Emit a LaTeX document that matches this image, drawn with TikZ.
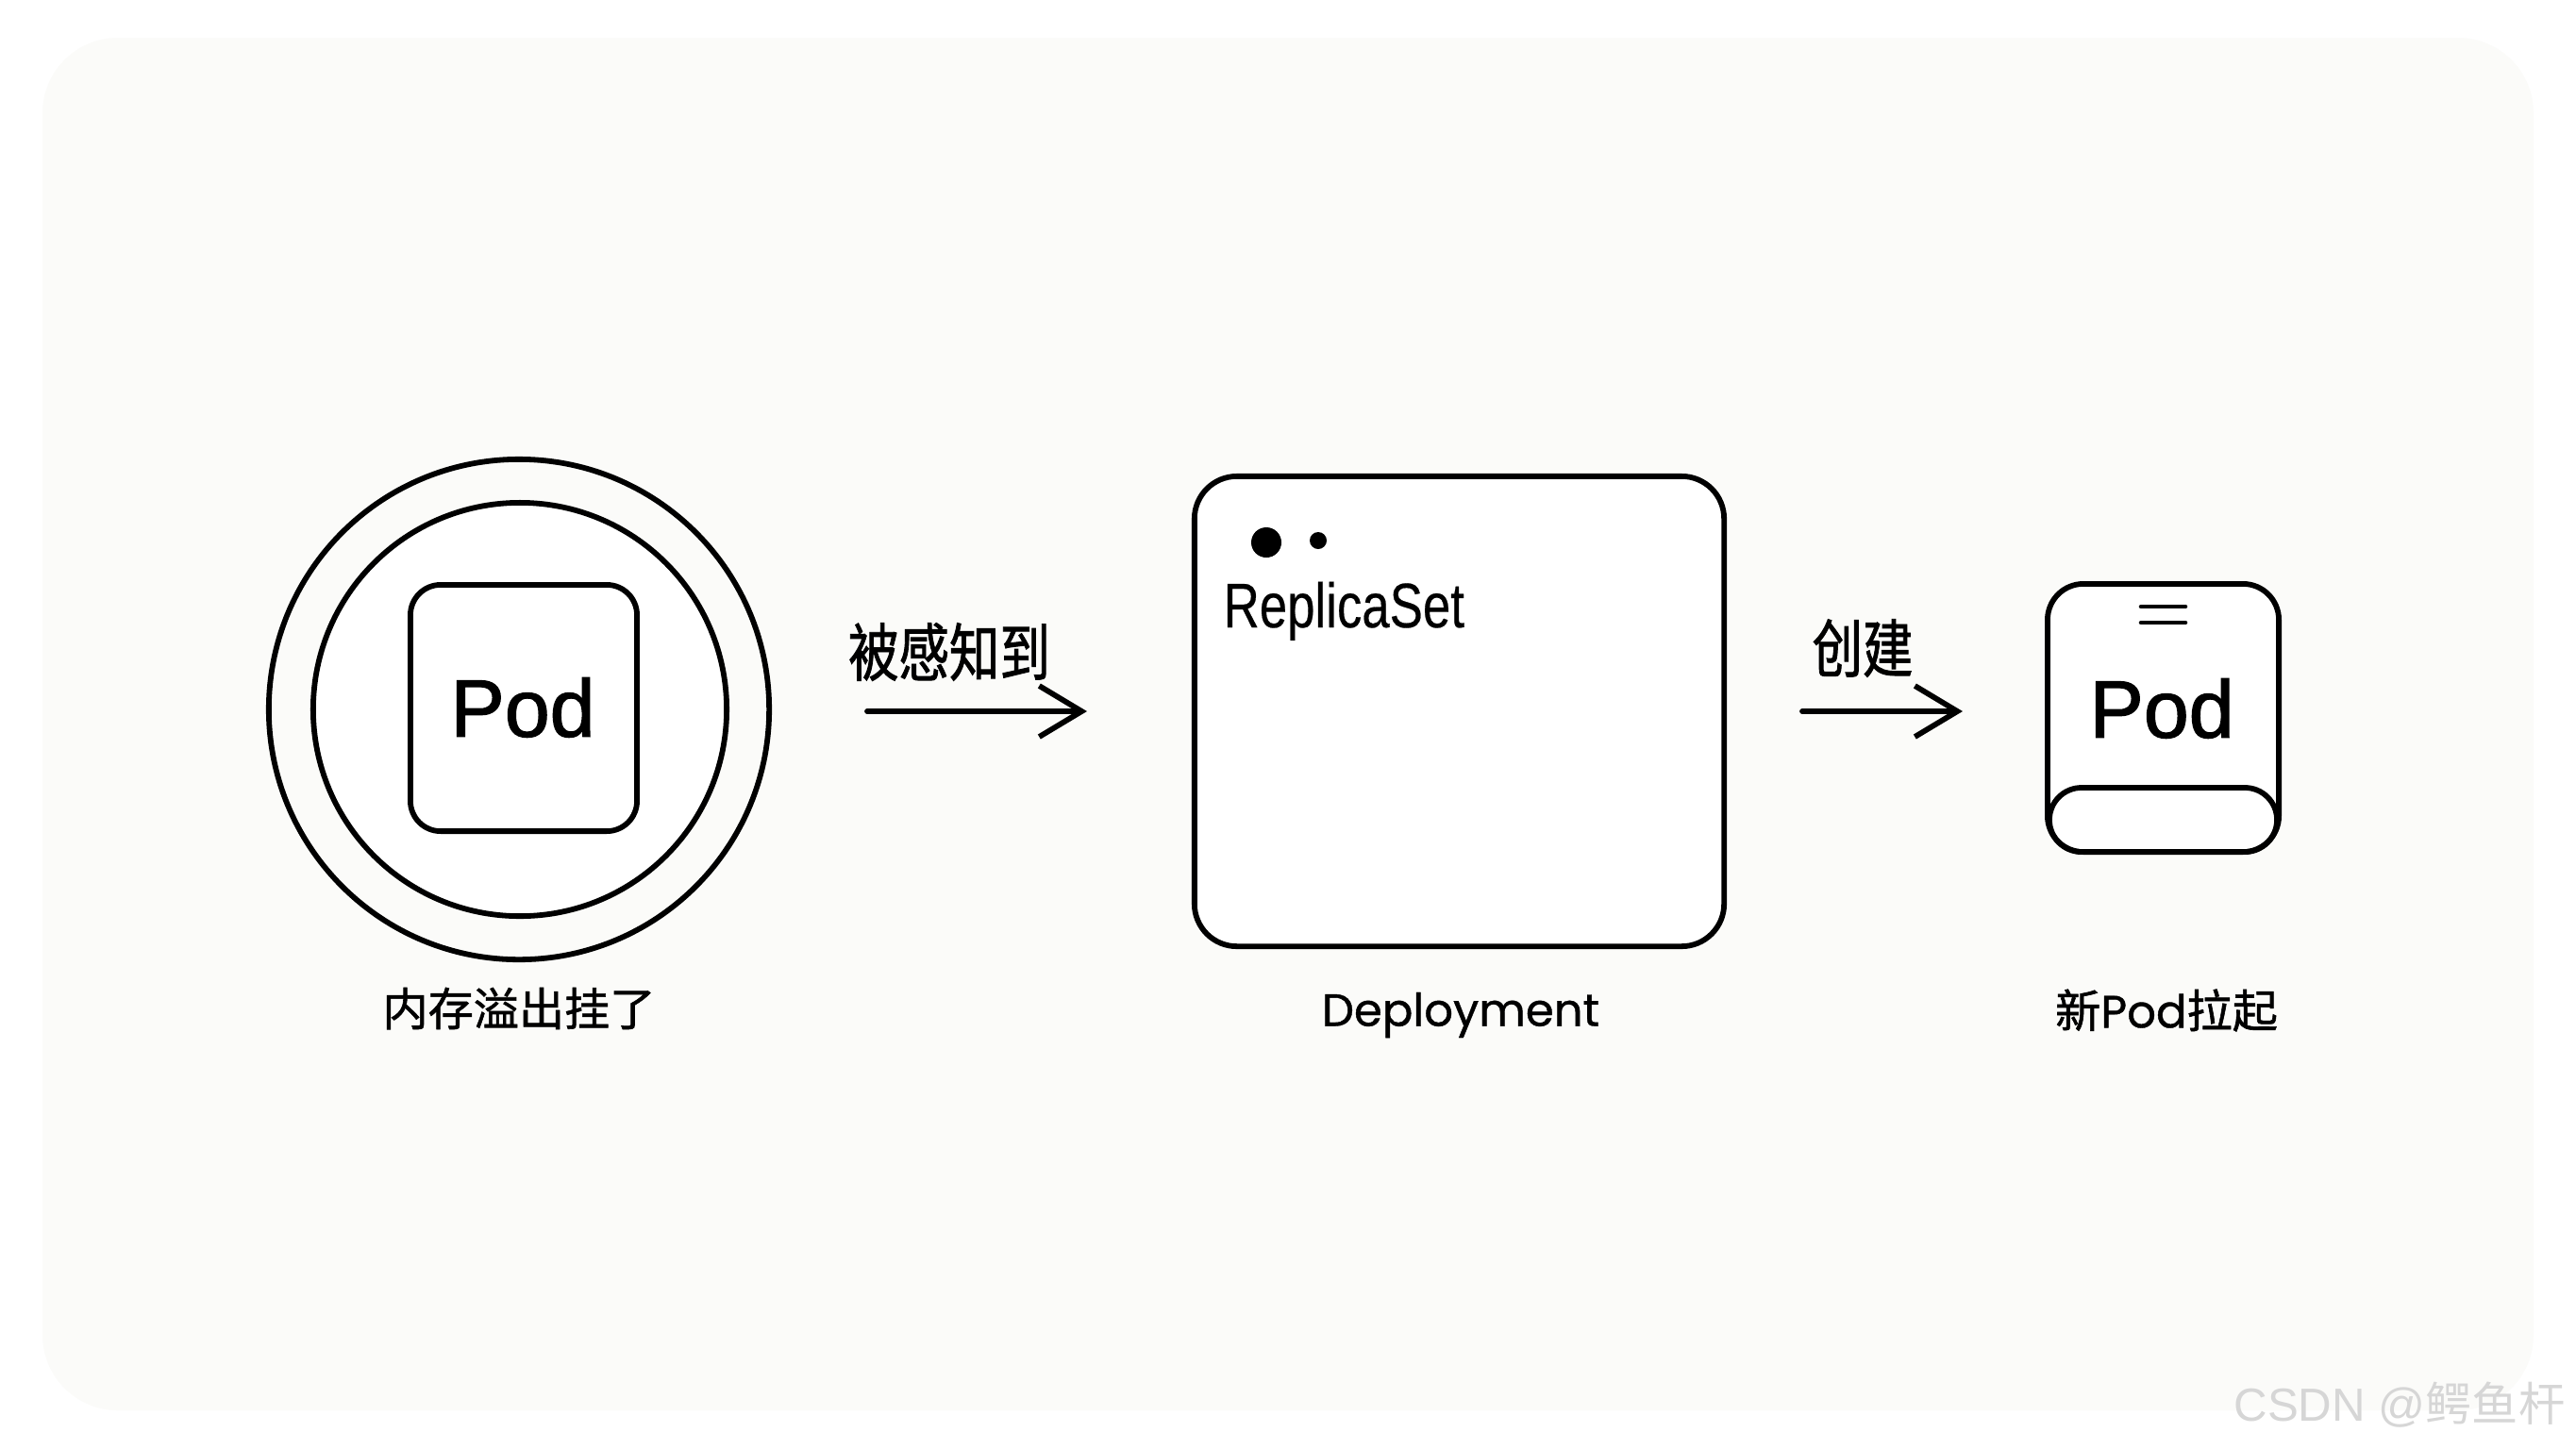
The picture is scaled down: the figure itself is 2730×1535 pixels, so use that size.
\documentclass[tikz,border=0pt]{standalone}
\usepackage{fontspec}
\usetikzlibrary{arrows.meta}
\setmainfont{Liberation Sans}
\newfontfamily\podfont{Liberation Sans}[FakeBold=1.5]
\newfontfamily\narrowfont{Liberation Sans}[FakeStretch=0.79,FakeBold=0.3]
\newfontfamily\cjkarrow{Noto Sans CJK SC}[FakeStretch=0.8,FakeBold=1.3]
\newfontfamily\cjklabel{Noto Sans CJK SC}[FakeBold=1.2]
\newfontfamily\poplabel{Poppins}[FakeBold=0.8]
\newfontfamily\cjkplain{Noto Sans CJK SC}
\definecolor{bgtint}{RGB}{251,251,249}
\definecolor{wmgray}{RGB}{214,214,214}
\tikzset{
  ln/.style={draw=black,line width=1.65pt},
  podtext/.style={font=\podfont\fontsize{24.5pt}{27pt}\selectfont,inner sep=0pt},
  lbl/.style={inner sep=0pt,font=\cjklabel\fontsize{13.7pt}{16pt}\selectfont},
  arrlbl/.style={inner sep=0pt,font=\cjkarrow\fontsize{19pt}{22pt}\selectfont},
  flow/.style={line width=1.65pt,line cap=round,-{Straight Barb[length=0.45cm,width=0.54cm,line width=1.65pt]}},
}
\begin{document}
\begin{tikzpicture}[x=0.01cm,y=-0.01cm]
\useasboundingbox (0,0) rectangle (2730,1535);
\fill[white] (0,0) rectangle (2730,1535);
\fill[bgtint,rounded corners=0.8cm] (45,40) rectangle (2685,1495);

% left: crashed pod
\node[ln,circle,minimum size=5.30cm,inner sep=0pt] (outer) at (550,752) {};
\node[ln,circle,minimum size=4.38cm,inner sep=0pt,fill=white] (inner) at (551,752) {};
\node[ln,rectangle,rounded corners=0.32cm,minimum width=2.40cm,minimum height=2.61cm,fill=white] (pod1) at (555,750.5) {};
\node[podtext] (pod1t) at (554,750) {Pod};
\node[lbl] (l1) at (550,1069) {内存溢出挂了};

% arrow 1
\coordinate (a1s) at (919,754);
\coordinate (a1e) at (1152,754);
\draw[flow] (a1s) -- (a1e);
\node[arrlbl] (t1) at (1006,691) {被感知到};

% deployment
\node[ln,rectangle,rounded corners=0.45cm,minimum width=5.61cm,minimum height=4.98cm,fill=white] (dep) at (1546.5,754) {};
\node[circle,fill=black,minimum size=0.32cm,inner sep=0pt] (dot1) at (1342,575) {};
\node[circle,fill=black,minimum size=0.18cm,inner sep=0pt] (dot2) at (1397,573) {};
\node[anchor=base west,inner sep=0pt,font=\narrowfont\fontsize{19pt}{22pt}\selectfont] (rs) at (1296,665) {ReplicaSet};
\node[lbl,font=\poplabel\fontsize{13.7pt}{16pt}\selectfont] (l2) at (1548,1076) {Deployment};

% arrow 2
\coordinate (a2s) at (1910,754);
\coordinate (a2e) at (2080,754);
\draw[flow] (a2s) -- (a2e);
\node[arrlbl] (t2) at (1974,687) {创建};

% new pod
\node[ln,rectangle,rounded corners=0.38cm,minimum width=2.45cm,minimum height=2.84cm,fill=white] (pod2) at (2292.5,761) {};
\node[ln,rectangle,rounded corners=0.34cm,minimum width=2.41cm,minimum height=0.68cm] (base) at (2292.5,869) {};
\draw[line width=1.3pt,line cap=round] (2269,643) -- (2316,643);
\draw[line width=1.3pt,line cap=round] (2269,660) -- (2316,660);
\node[podtext] (pod2t) at (2291,751) {Pod};
\node[lbl] (l3) at (2296,1071) {新{\poplabel Pod}拉起};

% watermark
\node[anchor=base,inner sep=0pt,text=wmgray,font=\fontsize{14pt}{16pt}\selectfont] (wm) at (2543,1506) {CSDN @{\cjkplain 鳄鱼杆}};
\end{tikzpicture}
\end{document}
